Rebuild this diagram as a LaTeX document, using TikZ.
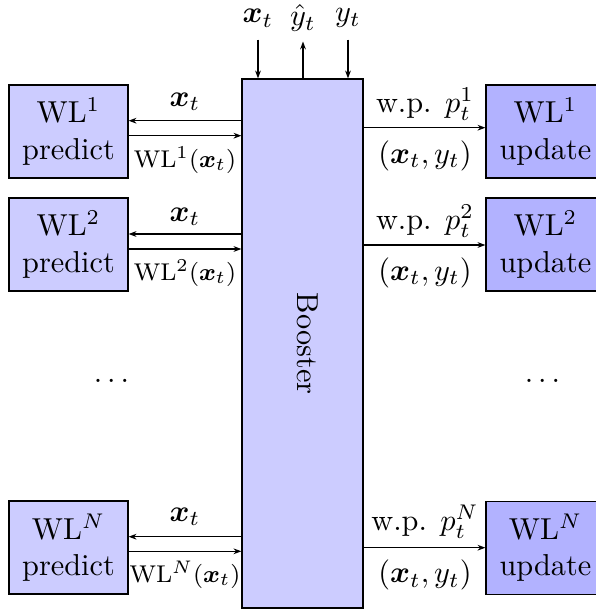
\documentclass[tikz,border=0pt]{standalone}
\usepackage{amsmath}
\usetikzlibrary{arrows.meta}
\begin{document}
\begin{tikzpicture}[x=0.33pt,y=-0.33pt,
  predbox/.style={draw, fill=blue!20, minimum width=39.27pt, minimum height=30.69pt, inner sep=0pt, align=center},
  updbox/.style={draw, fill=blue!30, minimum width=39.27pt, minimum height=30.69pt, inner sep=0pt, align=center},
  arr/.style={-{Stealth[length=2.6pt,width=1.9pt]}},
  lbl/.style={inner sep=0pt},
  smalllbl/.style={inner sep=0pt, font=\footnotesize}]
\useasboundingbox (0,0) rectangle (595,611);
% booster
\node[draw, fill=blue!20, minimum width=39.93pt, minimum height=174.57pt, inner sep=0pt] (b) at (302.5,343.5) {};
\node[rotate=-90] (blabel) at (308,343.5) {Booster};
% top
\node[lbl] (xtop) at (258,18) {$\boldsymbol{x}_t$};
\node[lbl] (yhtop) at (303,18) {$\hat{y}_t$};
\node[lbl] (ytop) at (348,18) {$y_t$};
\coordinate (xs) at (258,39.5);
\coordinate (yhs) at (303,41.5);
\coordinate (ys) at (348,39.5);
\draw[arr] (xs) -- (xs |- b.north);
\draw[arr] (yhs |- b.north) -- (yhs);
\draw[arr] (ys) -- (ys |- b.north);
% predict boxes
\node[predbox] (p1) at (68.5,131.5) {WL$^1$\\predict};
\node[predbox] (p2) at (68.5,244.5) {WL$^2$\\predict};
\node[predbox] (pN) at (68.5,547.5) {WL$^N$\\predict};
% update boxes
\node[updbox] (u1) at (545.5,131.5) {WL$^1$\\update};
\node[updbox] (u2) at (545.5,244.5) {WL$^2$\\update};
\node[updbox] (uN) at (545.5,548) {WL$^N$\\update};
% left arrows
\draw[arr] (b.west |- 0,120.7) -- (p1.east |- 0,120.7);
\draw[arr] (p1.east |- 0,135.7) -- (b.west |- 0,135.7);
\draw[arr] (b.west |- 0,234) -- (p2.east |- 0,234);
\draw[arr] (p2.east |- 0,249) -- (b.west |- 0,249);
\draw[arr] (b.west |- 0,536.7) -- (pN.east |- 0,536.7);
\draw[arr] (pN.east |- 0,551.3) -- (b.west |- 0,551.3);
\node[lbl] (lx1) at (185,101.7) {$\boldsymbol{x}_t$};
\node[smalllbl] (lw1) at (185,160) {WL$^1(\boldsymbol{x}_t)$};
\node[lbl] (lx2) at (185,216.7) {$\boldsymbol{x}_t$};
\node[smalllbl] (lw2) at (185,273) {WL$^2(\boldsymbol{x}_t)$};
\node[lbl] (lxN) at (185,516.7) {$\boldsymbol{x}_t$};
\node[smalllbl] (lwN) at (185,575) {WL$^N(\boldsymbol{x}_t)$};
% right arrows
\draw[arr] (b.east |- 0,127.7) -- (u1.west |- 0,127.7);
\draw[arr] (b.east |- 0,245) -- (u2.west |- 0,245);
\draw[arr] (b.east |- 0,547.7) -- (uN.west |- 0,547.7);
\node[lbl] (rw1) at (425,104) {w.p. $p_t^1$};
\node[lbl] (rx1) at (425,155.7) {$(\boldsymbol{x}_t, y_t)$};
\node[lbl] (rw2) at (425,221) {w.p. $p_t^2$};
\node[lbl] (rx2) at (425,272.7) {$(\boldsymbol{x}_t, y_t)$};
\node[lbl] (rwN) at (425,521.7) {w.p. $p_t^N$};
\node[lbl] (rxN) at (425,575) {$(\boldsymbol{x}_t, y_t)$};
% dots
\node[lbl] (ldots) at (114,381) {$\dots$};
\node[lbl] (rdots) at (545,381) {$\dots$};
\end{tikzpicture}
\end{document}
